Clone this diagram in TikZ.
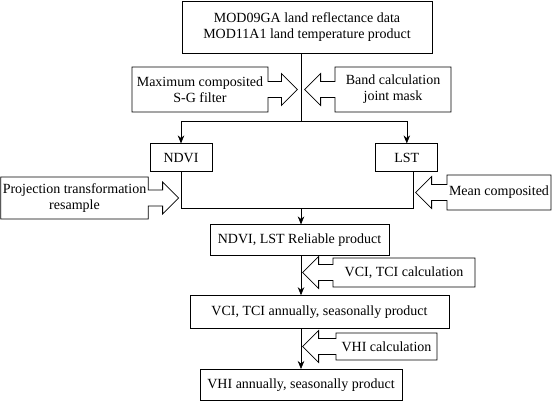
\documentclass[tikz,border=0pt]{standalone}
\usepackage{fontspec}
\setmainfont{Liberation Serif}
\usetikzlibrary{shapes.arrows,arrows.meta}
\usetikzlibrary{positioning}

\begin{document}
\begin{tikzpicture}[
datanode/.style={rectangle, draw, thick, inner sep=2pt, align=center,
font=\fontsize{14}{16}\selectfont,
},
opnode/.style={arrow box, draw, thick, inner sep=2pt, align=center,
font=\fontsize{14}{16}\selectfont,
arrow box shaft width=16pt, arrow box head extend=8pt,
},
>={Stealth[length=8pt,width=6.5pt]}]
\useasboundingbox (0pt,0pt) rectangle (553pt,-400pt);
%Nodes
\node[datanode, minimum width=250pt, minimum height=52pt] (src) at (307pt,-27pt) {MOD09GA land reflectance data\\MOD11A1 land temperature product};
\node[datanode, minimum width=62pt, minimum height=28pt] (ndvi) [below=90pt of src, xshift=-126pt] {NDVI};
\node[datanode, minimum width=62pt, minimum height=28pt] (lst) [right=163pt of ndvi] {LST};
\node[datanode, minimum width=179pt, minimum height=31pt] (rel) [below=171pt of src, xshift=-7.5pt] {NDVI, LST Reliable product};
\node[datanode, minimum width=259pt, minimum height=33pt] (vcia) [below=39pt of rel, xshift=20pt] {VCI, TCI annually, seasonally product};
\node[datanode, minimum width=202pt, minimum height=31pt] (vhia) [below=40pt of vcia, xshift=-18.5pt] {VHI annually, seasonally product};
\coordinate[below=68pt of src.south, xshift=-6pt] (fork);
\coordinate[below=87pt of fork] (merge);
%Operations
\node[opnode, minimum width=136pt, minimum height=45pt, arrow box arrows={east:29pt from border}] (maxc) at (200pt,-89.5pt) {Maximum composited\\S-G filter};
\node[opnode, minimum width=116pt, minimum height=45pt, arrow box arrows={west:30pt from border}] (band) at (393pt,-89.5pt) {Band calculation\\joint mask};
\node[opnode, minimum width=147pt, minimum height=42pt, arrow box arrows={east:30pt from border}] (proj) at (74.5pt,-198pt) {Projection transformation\\resample};
\node[opnode, minimum width=104pt, minimum height=35pt, arrow box arrows={west:31pt from border}] (mean) at (499pt,-192.5pt) {Mean composited};
\node[opnode, minimum width=142pt, minimum height=29pt, arrow box arrows={west:30pt from border}] (vci) at (404pt,-272.5pt) {VCI, TCI calculation};
\node[opnode, minimum width=101pt, minimum height=27pt, arrow box arrows={west:33pt from border}] (vhi) at (386.5pt,-346.5pt) {VHI calculation};
%Lines
\draw[semithick] (src.south -| fork) -- (fork);
\draw[semithick,->] (fork) -| (ndvi.north);
\draw[semithick,->] (fork) -| (lst.north);
\draw[semithick] (ndvi.south) |- (merge) -| ([xshift=6pt]lst.south);
\draw[semithick,->] (merge) -- (rel.north -| merge);
\draw[semithick,->] (rel.south -| merge) -- (vcia.north -| merge);
\draw[semithick,->] (vcia.south -| merge) -- (vhia.north -| merge);
\end{tikzpicture}
\end{document}
